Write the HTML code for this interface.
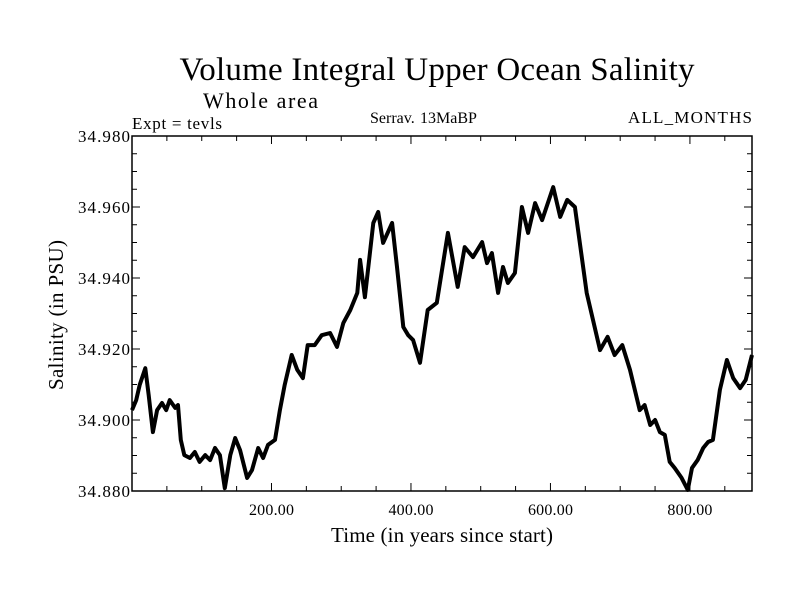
<!DOCTYPE html>
<html><head><meta charset="utf-8"><style>
html,body{margin:0;padding:0;background:#fff;}
svg{display:block;font-family:"Liberation Serif",serif;}
</style></head><body>
<svg id="chart" width="800" height="600" viewBox="0 0 800 600">
<rect width="800" height="600" fill="#fff"/>
<text x="437" y="80" font-size="33" text-anchor="middle" textLength="515">Volume Integral Upper Ocean Salinity</text>
<text x="203" y="108" font-size="22" textLength="115">Whole area</text>
<text x="132" y="129" font-size="17" textLength="90">Expt = tevls</text>
<text x="370" y="123" font-size="16">Serrav.</text>
<text x="420" y="123" font-size="16">13MaBP</text>
<text x="628" y="123" font-size="17" textLength="124">ALL_MONTHS</text>
<text x="442" y="542" font-size="21" text-anchor="middle" textLength="222">Time (in years since start)</text>
<text x="63" y="315" font-size="21" text-anchor="middle" textLength="150" transform="rotate(-90 63 315)">Salinity (in PSU)</text>
<g id="axes"></g>
<g id="series"></g>
</svg>
<script>
const xTicks = [200, 400, 600, 800];
const xTickLabels = ["200.00", "400.00", "600.00", "800.00"];
const yTicks = [34.88, 34.90, 34.92, 34.94, 34.96, 34.98];
const yTickLabels = ["34.880", "34.900", "34.920", "34.940", "34.960", "34.980"];
const times = [0,6,11,19,24,30,36,43,49,54,62,66,70,75,83,90,97,105,112,119,126,133,141,148,155,165,172,181,188,195,205,212,219,229,237,245,252,262,272,284,294,303,313,323,327,334,346,353,360,373,380,389,396,403,413,424,437,453,467,477,489,502,509,516,525,532,539,549,559,568,578,588,604,614,624,635,652,661,671,682,692,703,714,728,735,743,750,757,764,771,778,788,797,803,811,819,826,833,843,853,862,872,880,889];
const salinity = [34.9028,34.9056,34.9099,34.9146,34.9070,34.8966,34.9028,34.9048,34.9028,34.9056,34.9034,34.9042,34.8944,34.8901,34.8893,34.8910,34.8882,34.8901,34.8887,34.8921,34.8901,34.8808,34.8901,34.8949,34.8915,34.8837,34.8859,34.8921,34.8893,34.8930,34.8944,34.9028,34.9099,34.9183,34.9141,34.9118,34.9211,34.9211,34.9239,34.9245,34.9206,34.9273,34.9310,34.9358,34.9451,34.9346,34.9555,34.9586,34.9499,34.9555,34.9431,34.9262,34.9239,34.9225,34.9161,34.9310,34.9330,34.9527,34.9375,34.9487,34.9459,34.9501,34.9442,34.9470,34.9358,34.9431,34.9386,34.9414,34.9600,34.9527,34.9611,34.9563,34.9656,34.9572,34.9620,34.9600,34.9358,34.9282,34.9197,34.9234,34.9183,34.9211,34.9141,34.9028,34.9042,34.8986,34.9000,34.8966,34.8958,34.8882,34.8865,34.8837,34.8803,34.8865,34.8887,34.8921,34.8938,34.8944,34.9085,34.9169,34.9118,34.9090,34.9113,34.9183];

const L=132,R=752,T=136,B=491, xMin=0,xMax=889,yMin=34.88,yMax=34.98;
const sx=v=>L+(v-xMin)/(xMax-xMin)*(R-L);
const sy=v=>B-(v-yMin)/(yMax-yMin)*(B-T);
const NS="http://www.w3.org/2000/svg";
const axes=document.getElementById('axes'), series=document.getElementById('series');
function mk(tag,attrs,parent){const e=document.createElementNS(NS,tag);for(const k in attrs)e.setAttribute(k,attrs[k]);parent.appendChild(e);return e;}

const frame=mk('rect',{x:L,y:T,width:R-L,height:B-T,fill:'none',stroke:'#000','stroke-width':1.5},axes);



for(let v=50; v<xMax; v+=50){
  const major = v%200===0, len = major?8:5, x=sx(v);
  const t1=mk('line',{x1:x,y1:B,x2:x,y2:B-len,stroke:'#000','stroke-width':1},axes);
  
  
  const t2=mk('line',{x1:x,y1:T,x2:x,y2:T+len,stroke:'#000','stroke-width':1},axes);
  
  
}
xTicks.forEach((v,i)=>{
  const t=mk('text',{x:sx(v),y:B+24,'font-size':16,'text-anchor':'middle',textLength:45},axes);
  t.textContent=xTickLabels[i];
  
  
});
for(let k=1;k<20;k++){
  const v=yMin+k*0.005, major=k%4===0, len=major?8:5, y=sy(v);
  const t1=mk('line',{x1:L,y1:y,x2:L+len,y2:y,stroke:'#000','stroke-width':1},axes);
  
  
  const t2=mk('line',{x1:R,y1:y,x2:R-len,y2:y,stroke:'#000','stroke-width':1},axes);
  
  
}
yTicks.forEach((v,i)=>{
  const t=mk('text',{x:78,y:sy(v)+6,'font-size':17,textLength:52},axes);
  t.textContent=yTickLabels[i];
  
  
});

const d=times.map((t,i)=>(i?'L':'M')+sx(t).toFixed(1)+','+sy(salinity[i]).toFixed(1)).join(' ');
const line=mk('path',{d:d,fill:'none',stroke:'#000','stroke-width':4,'stroke-linejoin':'round'},series);


</script>
</body></html>
